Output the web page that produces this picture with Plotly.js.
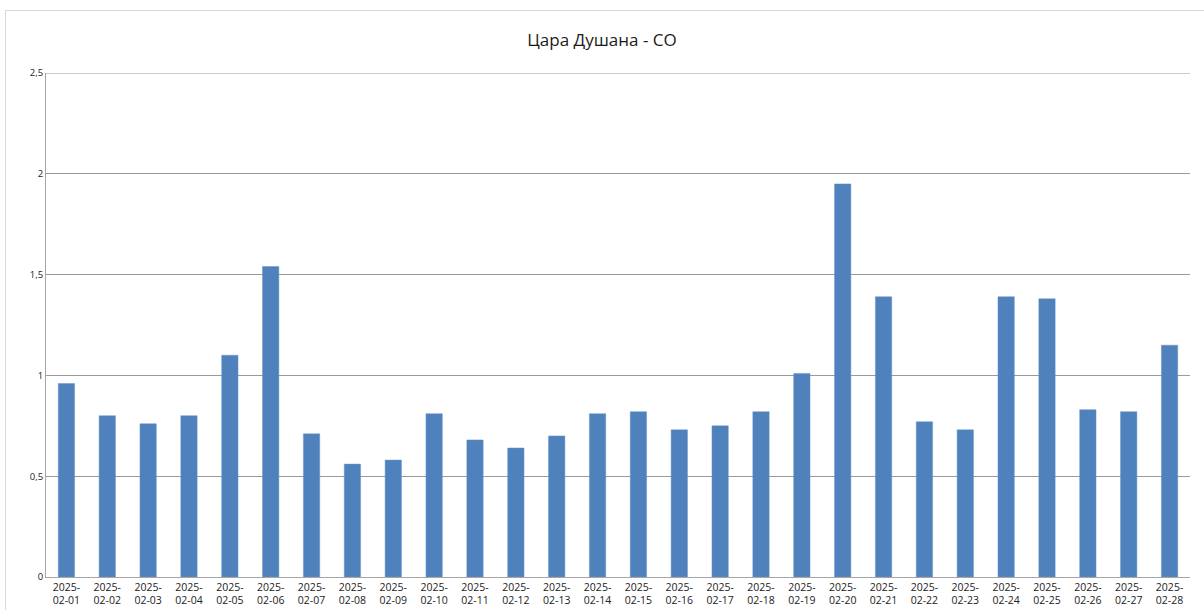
<!DOCTYPE html>
<html>
<head>
<meta charset="utf-8">
<script src="https://cdn.plot.ly/plotly-3.0.1.min.js"></script>
<style>
html,body{margin:0;padding:0;background:#fff;}
#wrap{position:relative;width:1204px;height:610px;overflow:hidden;}
#frame{position:absolute;left:5px;top:10px;width:1210px;height:620px;border:1px solid #d9d9d9;box-sizing:border-box;}
#chart{position:absolute;left:0;top:0;width:1204px;height:610px;}
</style>
</head>
<body>
<div id="wrap"><div id="frame"></div><div id="chart"></div></div>
<script>
const dates = ["2025-02-01","2025-02-02","2025-02-03","2025-02-04","2025-02-05","2025-02-06","2025-02-07",
"2025-02-08","2025-02-09","2025-02-10","2025-02-11","2025-02-12","2025-02-13","2025-02-14",
"2025-02-15","2025-02-16","2025-02-17","2025-02-18","2025-02-19","2025-02-20","2025-02-21",
"2025-02-22","2025-02-23","2025-02-24","2025-02-25","2025-02-26","2025-02-27","2025-02-28"];
const coValues = [0.96,0.80,0.76,0.80,1.10,1.54,0.71,0.56,0.58,0.81,0.68,0.64,0.70,0.81,
0.82,0.73,0.75,0.82,1.01,1.95,1.39,0.77,0.73,1.39,1.38,0.83,0.82,1.15];
const tickLabels = dates.map(d => d.slice(0,5) + "<br>" + d.slice(5));
const titleText = "Цара Душана - CO";

const trace = {
  type: "bar",
  x: dates,
  y: coValues,
  marker: {color: "#4f81bd", line: {color: "#6a95c9", width: 0.5}},
  hoverinfo: "x+y"
};
const layout = {
  width: 1204, height: 610,
  margin: {l: 46, r: 14, t: 73, b: 33},
  paper_bgcolor: "rgba(0,0,0,0)",
  plot_bgcolor: "rgba(0,0,0,0)",
  separators: ", ",
  bargap: 0.6,
  showlegend: false,
  title: {text: titleText, x: 0.5, xanchor: "center", y: 0.935, yanchor: "middle",
          font: {family: "Open Sans, Noto Sans, sans-serif", size: 17, color: "#1a1a1a"}},
  xaxis: {
    type: "category",
    tickvals: dates,
    ticktext: tickLabels,
    tickfont: {family: "Open Sans, Noto Sans, sans-serif", size: 10.5, color: "#222"},
    tickangle: 0,
    showline: true, linecolor: "#a6a6a6", linewidth: 1,
    showgrid: false, ticks: "", ticklen: 0
  },
  yaxis: {
    range: [0, 2.5],
    dtick: 0.5,
    tick0: 0,
    tickfont: {family: "Open Sans, Noto Sans, sans-serif", size: 9.5, color: "#222"},
    showgrid: true, gridcolor: "#9a9a9a", gridwidth: 1,
    showline: true, linecolor: "#a6a6a6", linewidth: 1,
    zeroline: false,
    ticks: "", ticklen: 0
  },
  shapes: [{type: "line", xref: "paper", yref: "y", x0: 0, x1: 1, y0: 2.5, y1: 2.5,
            line: {color: "#9a9a9a", width: 1}}]
};
Plotly.newPlot("chart", [trace], layout, {displayModeBar: false, staticPlot: true});
</script>
</body>
</html>
